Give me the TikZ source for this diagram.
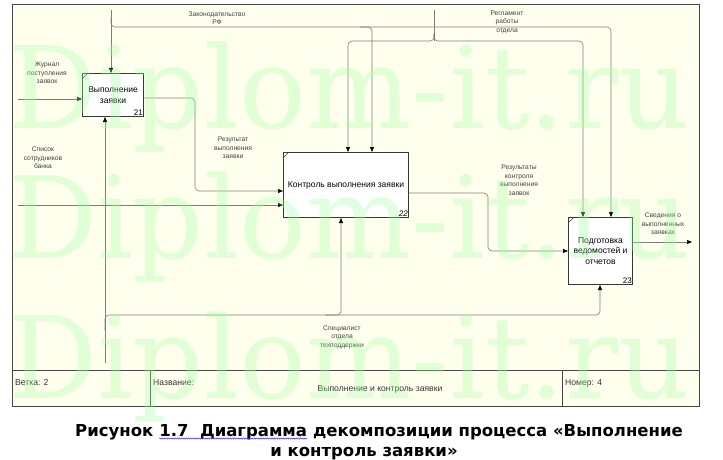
\documentclass[tikz,border=0pt]{standalone}
\usepackage{fontspec}
\setmainfont{Liberation Sans}
\newfontfamily\wmfont{DejaVu Serif}
\newfontfamily\capfont{DejaVu Sans}
\usetikzlibrary{arrows.meta,decorations.pathmorphing}
\definecolor{bg}{RGB}{255,255,238}
\definecolor{wm}{RGB}{160,255,160}
\definecolor{ln}{RGB}{125,125,125}
\definecolor{bx}{RGB}{55,55,55}
\definecolor{frm}{RGB}{70,70,70}
\begin{document}
\begin{tikzpicture}[x=1pt,y=-1pt,
  lab/.style={font=\fontsize{6.7}{8.5}\selectfont, text=black!75, align=center, inner sep=0},
  proc/.style={draw=bx, fill=white, line width=1pt, anchor=north west, inner sep=1pt, align=center, font=\fontsize{8.5}{10.5}\selectfont},
  num/.style={anchor=south east, inner sep=1pt, font=\fontsize{8}{9}\selectfont},
  arr/.style={draw=ln, line width=0.6pt, -{Triangle[length=5pt,width=4pt,color=black]}, rounded corners=4pt},
  con/.style={draw=ln, line width=0.6pt, rounded corners=4pt},
  tick/.style={draw=bx, line width=0.4pt},
  tb/.style={font=\fontsize{8.6}{10}\selectfont, inner sep=0, text=black!80},
  wmstyle/.style={font=\wmfont\fontsize{114}{114}\selectfont, text=wm, text opacity=0.32, anchor=base west, inner sep=0},
  capt/.style={font=\capfont\bfseries\fontsize{16.5}{20}\selectfont, inner sep=0}
]
\fill[white] (0,0) rectangle (723,460);
\useasboundingbox (0,0) rectangle (723,460);
% frame
\draw[fill=bg, draw=frm, line width=0.8pt] (12,4) rectangle (699,406);
\draw[frm, line width=0.9pt] (12,370) -- (699,370);
\draw[frm, line width=0.9pt] (150,370) -- (150,406);
\draw[frm, line width=0.9pt] (562,370) -- (562,406);

% boxes
\node[proc, minimum width=61, minimum height=43] (b21) at (82,73) {Выполнение\\заявки};
\node[proc, minimum width=125, minimum height=65] (b22) at (283,152) {Контроль выполнения заявки};
\node[proc, minimum width=64, minimum height=67] (b23) at (568,217) {Подготовка\\ведомостей и\\отчетов};
\node[num] at (b21.south east) {21};
\node[num] at (b22.south east) {\itshape 22};
\node[num] at (b23.south east) {23};
\draw[tick] ([yshift=-6pt]b21.north west) -- ([xshift=6pt]b21.north west);
\draw[tick] ([yshift=-6pt]b22.north west) -- ([xshift=6pt]b22.north west);
\draw[tick] ([yshift=-6pt]b23.north west) -- ([xshift=6pt]b23.north west);

% controls
\coordinate (law) at (111,10);
\coordinate (reg) at (434,10);
\draw[arr] (law) -- (law |- b21.north);
\draw[arr] (111,18) -- (111,27) -- (611,27) -- (611,0 |- b23.north);
\draw[arr] (360,27) -- (372,27) -- (372,0 |- b22.north);
\draw[con] (reg) -- (434,41);
\draw[arr] (434,34) -- (434,41) -- (348,41) -- (348,0 |- b22.north);
\draw[arr] (434,34) -- (434,41) -- (583,41) -- (583,0 |- b23.north);

% inputs
\coordinate (in1) at (18,99);
\coordinate (in2) at (18,205);
\draw[arr] (in1) -- (in1 -| b21.west);
\draw[arr] (in2) -- (in2 -| b22.west);

% outputs
\draw[arr] (b21.east |- 0,98) -- (195,98) -- (195,191) -- (b22.west |- 0,191);
\draw[arr] (b22.east |- 0,193) -- (488,193) -- (488,251) -- (b23.west |- 0,251);
\coordinate (out3) at (692,242);
\draw[arr] (b23.east |- out3) -- (out3);

% mechanisms
\coordinate (mech) at (105,363);
\draw[arr] (mech) -- (mech |- b21.south);
\draw[arr] (105,330) -- (105,315) -- (600,315) -- (600,0 |- b23.south);
\draw[arr] (325,315) -- (341,315) -- (341,0 |- b22.south);

% labels
\node[lab] at (217,18) {Законодательство\\РФ};
\node[lab] at (507,22) {Регламент\\работы\\отдела};
\node[lab] at (47,73) {Журнал\\поступления\\заявок};
\node[lab] at (43,158) {Список\\сотрудников\\банка};
\node[lab] at (233,148) {Результат\\выполнения\\заявки};
\node[lab] at (519,180) {Результаты\\контроля\\выполнения\\заявок};
\node[lab] at (663,224) {Сведения о\\выполненных\\заявках};
\node[lab] at (342,337) {Специалист\\отдела\\техподдержки};

% title block
\node[tb, anchor=west] at (15,383) {Ветка: 2};
\node[tb, anchor=west] at (153,383) {Название:};
\node[tb] at (380,389) {Выполнение и контроль заявки};
\node[tb, anchor=west] at (565,383) {Номер: 4};

% caption
\node[capt, anchor=base west] (c1) at (75,436) {Рисунок};
\node[capt, anchor=base west] (c2) at ([xshift=5.6pt]c1.base east) {1.7\ \ Диаграмма};
\node[capt, anchor=base west] (c3) at ([xshift=5.6pt]c2.base east) {декомпозиции процесса «Выполнение};
\node[capt, anchor=base] (c4) at (364,456) {и контроль заявки»};
\draw[blue!80, line width=0.5pt, decorate, decoration={snake, amplitude=0.6pt, segment length=2.2pt}] ([yshift=-2.5pt]c2.base west) -- ([yshift=-2.5pt]c2.base east);

% watermark
\node[wmstyle] at (8,128) {\scalebox{0.975}[1]{Diplom-it.ru}};
\node[wmstyle] at (8,258) {\scalebox{0.975}[1]{Diplom-it.ru}};
\node[wmstyle] at (8,398) {\scalebox{0.975}[1]{Diplom-it.ru}};
\end{tikzpicture}
\end{document}
